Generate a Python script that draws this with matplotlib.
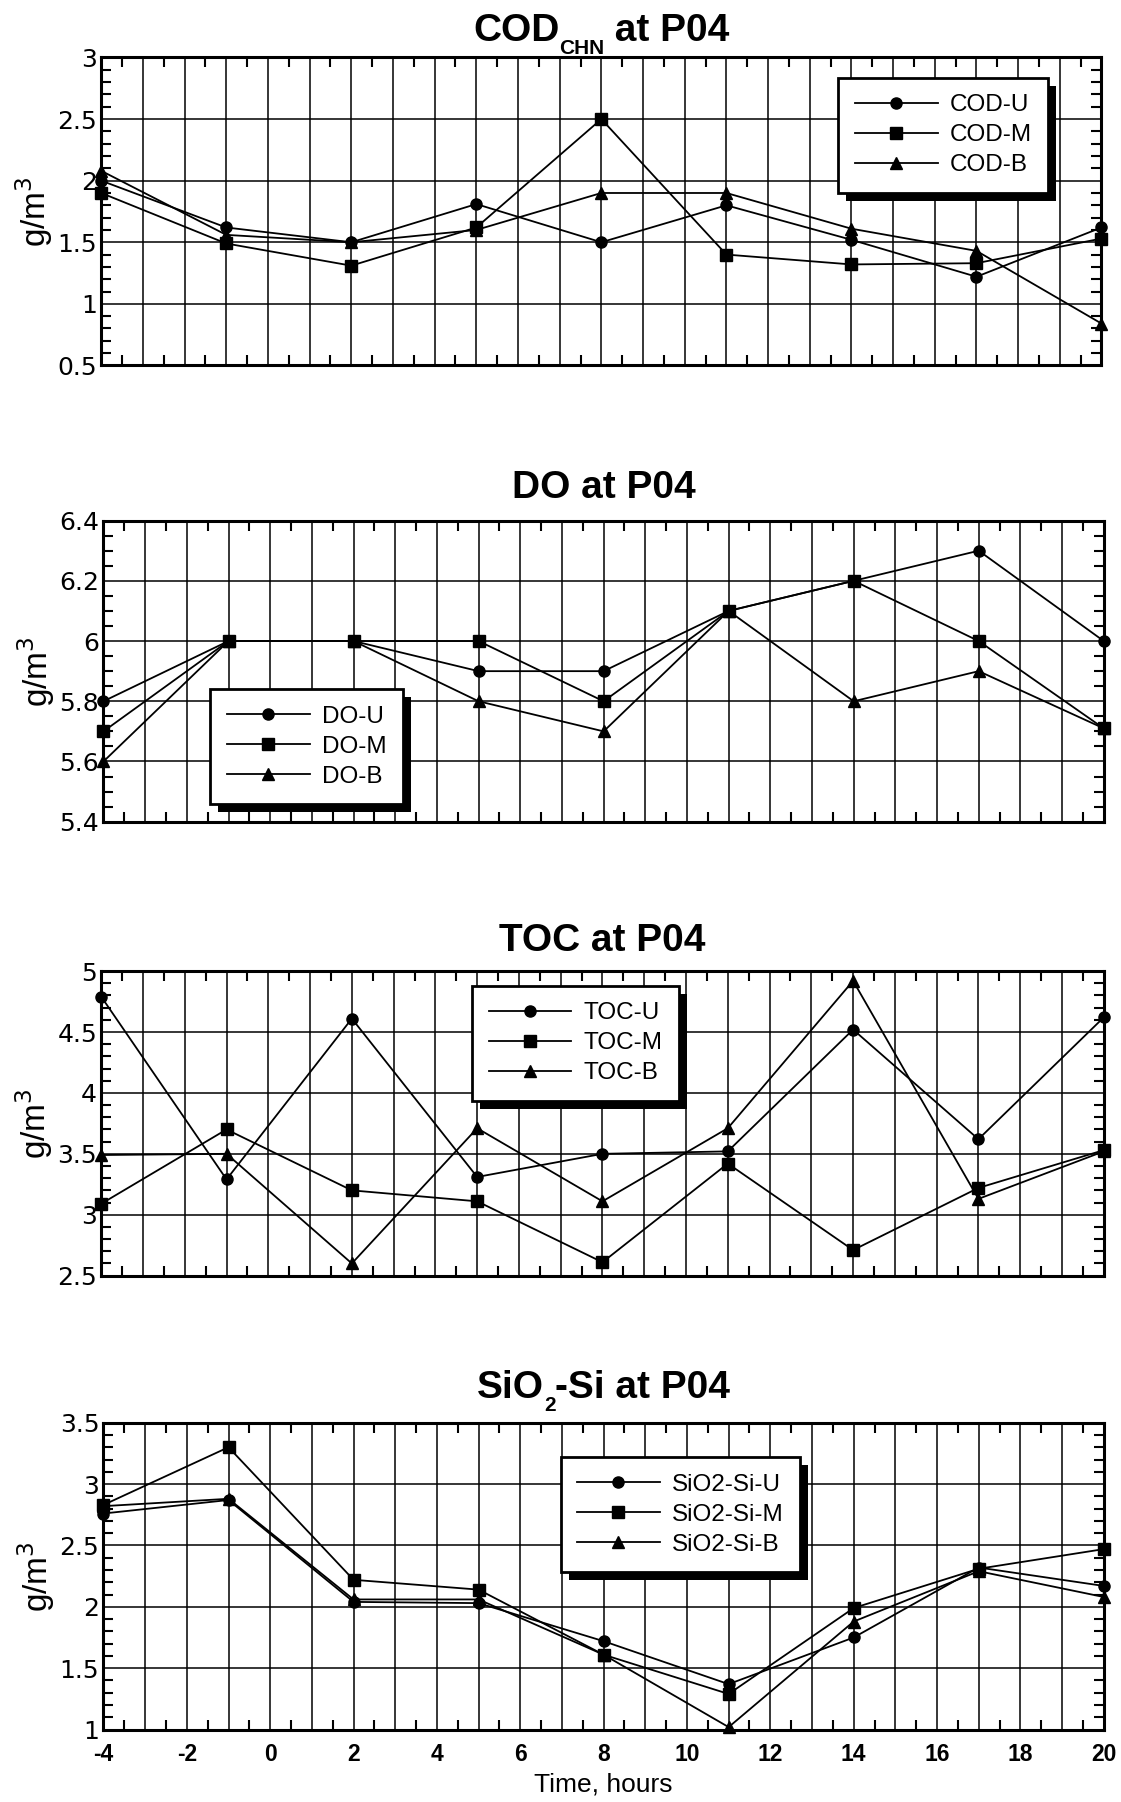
import matplotlib
matplotlib.use("Agg")
import matplotlib.pyplot as plt
from matplotlib.ticker import MultipleLocator, FuncFormatter
from matplotlib.patches import Rectangle
from matplotlib.transforms import IdentityTransform

plt.rcParams['font.family'] = ['Liberation Sans', 'DejaVu Sans']

# ---------------- data ----------------
hours = [-4, -1, 2, 5, 8, 11, 14, 17, 20]

cod_u = [2.0, 1.62, 1.5, 1.81, 1.5, 1.8, 1.52, 1.22, 1.62]
cod_m = [1.9, 1.49, 1.31, 1.62, 2.5, 1.4, 1.32, 1.33, 1.53]
cod_b = [2.08, 1.56, 1.5, 1.6, 1.9, 1.9, 1.61, 1.43, 0.84]

do_u = [5.8, 6.0, 6.0, 5.9, 5.9, 6.1, 6.2, 6.3, 6.0]
do_m = [5.7, 6.0, 6.0, 6.0, 5.8, 6.1, 6.2, 6.0, 5.71]
do_b = [5.6, 6.0, 6.0, 5.8, 5.7, 6.1, 5.8, 5.9, 5.71]

toc_u = [4.79, 3.29, 4.61, 3.31, 3.5, 3.52, 4.52, 3.62, 4.62]
toc_m = [3.09, 3.7, 3.2, 3.11, 2.61, 3.42, 2.71, 3.22, 3.53]
toc_b = [3.49, 3.5, 2.6, 3.71, 3.11, 3.71, 4.92, 3.13, 3.52]

si_u = [2.76, 2.87, 2.04, 2.03, 1.72, 1.37, 1.75, 2.32, 2.17]
si_m = [2.83, 3.3, 2.22, 2.14, 1.61, 1.29, 1.99, 2.31, 2.47]
si_b = [2.82, 2.88, 2.06, 2.06, 1.61, 1.02, 1.88, 2.29, 2.08]

# title pieces: (text, is_subscript)
panels = [
    dict(title=[("COD", False), ("CHN", True), (" at P04", False)],
         series=[cod_u, cod_m, cod_b],
         labels=["COD-U", "COD-M", "COD-B"], ylim=(0.5, 3.0), major=0.5, minor=0.1,
         leg=(0.737, 0.935)),
    dict(title=[("DO at P04", False)], series=[do_u, do_m, do_b],
         labels=["DO-U", "DO-M", "DO-B"], ylim=(5.4, 6.4), major=0.2, minor=0.05,
         leg=(0.107, 0.44)),
    dict(title=[("TOC at P04", False)], series=[toc_u, toc_m, toc_b],
         labels=["TOC-U", "TOC-M", "TOC-B"], ylim=(2.5, 5.0), major=0.5, minor=0.1,
         leg=(0.370, 0.952)),
    dict(title=[("SiO", False), ("2", True), ("-Si at P04", False)],
         series=[si_u, si_m, si_b],
         labels=["SiO2-Si-U", "SiO2-Si-M", "SiO2-Si-B"], ylim=(1.0, 3.5), major=0.5,
         minor=0.1, leg=(0.457, 0.888)),
]
markers = ['o', 's', '^']
msizes = [8, 8.5, 8.5]

# axes rectangles (figure fractions)
rects = [
    (0.0903, 0.7972, 0.8923, 0.1709),
    (0.0923, 0.5440, 0.8923, 0.1671),
    (0.0903, 0.2921, 0.8943, 0.1690),
    (0.0923, 0.0402, 0.8923, 0.1703),
]
title_base = [0.9775, 0.7235, 0.4725, 0.2240]
TITLE_FS = 28
SUB_FS = 15
SUB_DROP = 13  # pixels

fig = plt.figure(figsize=(11.21, 18.02), dpi=100)
legends = []
axes = []
for i, (p, r) in enumerate(zip(panels, rects)):
    ax = fig.add_axes(r)
    axes.append(ax)
    for s, lab, mk, ms in zip(p['series'], p['labels'], markers, msizes):
        ax.plot(hours, s, color='black', lw=1.3, marker=mk, ms=ms, label=lab,
                clip_on=False, zorder=3)
    ax.set_xlim(-4, 20)
    ax.set_ylim(*p['ylim'])
    ax.xaxis.set_major_locator(MultipleLocator(1))
    ax.xaxis.set_minor_locator(MultipleLocator(0.5))
    ax.yaxis.set_major_locator(MultipleLocator(p['major']))
    ax.yaxis.set_minor_locator(MultipleLocator(p['minor']))
    ax.grid(True, which='major', color='black', lw=1.1)
    ax.tick_params(which='both', direction='in', top=True, right=True, color='black')
    ax.tick_params(which='major', length=0, pad=5)
    ax.tick_params(which='minor', length=7, width=1.5)
    ax.tick_params(axis='y', which='major', labelsize=18,
                   labelfontfamily='DejaVu Sans', pad=3)
    ax.yaxis.set_major_formatter(FuncFormatter(lambda v, pos: f"{v:g}"))
    if i == 3:
        ax.xaxis.set_major_formatter(FuncFormatter(
            lambda v, pos: f"{int(round(v))}" if int(round(v)) % 2 == 0 else ""))
        ax.tick_params(axis='x', which='major', labelsize=16.5, pad=10)
        ax.set_xlabel("Time, hours", fontsize=19, labelpad=4)
    else:
        ax.tick_params(axis='x', labelbottom=False)
    for sp in ax.spines.values():
        sp.set_linewidth(2.2)
    ax.set_ylabel("g/m$^3$", fontsize=24, labelpad=2)
    leg = ax.legend(loc='upper left', bbox_to_anchor=p['leg'], fontsize=17.5,
                    frameon=True, fancybox=False, framealpha=1, edgecolor='black',
                    handlelength=3.4, handletextpad=0.5, labelspacing=0.33,
                    borderpad=0.68, borderaxespad=0)
    leg.get_frame().set_linewidth(2.0)
    leg.set_zorder(6)
    legends.append(leg)

fig.canvas.draw()
renderer = fig.canvas.get_renderer()

# titles built from pieces (subscripts drawn smaller and lowered)
for i, (p, r) in enumerate(zip(panels, rects)):
    pieces = []
    for txt, sub in p['title']:
        t = fig.text(0, 0, txt, fontsize=SUB_FS if sub else TITLE_FS,
                     fontweight='bold', ha='left', va='baseline')
        w = t.get_window_extent(renderer).width
        pieces.append((t, sub, w))
    total = sum(w for _, _, w in pieces)
    cx_px = (r[0] + r[2] / 2) * fig.bbox.width
    x = cx_px - total / 2
    y = title_base[i] * fig.bbox.height
    for t, sub, w in pieces:
        t.set_transform(IdentityTransform())
        t.set_position((x, y - (SUB_DROP if sub else 0)))
        x += w

for ax, leg in zip(axes, legends):
    bb = leg.get_window_extent()
    off = 8
    ax.add_patch(Rectangle((bb.x0 + off, bb.y0 - off), bb.width, bb.height,
                           transform=IdentityTransform(), facecolor='black',
                           edgecolor='none', zorder=5.5, clip_on=False))

for t in axes[3].get_xticklabels():
    t.set_fontweight('bold')

fig.savefig("out.png", dpi=100)
